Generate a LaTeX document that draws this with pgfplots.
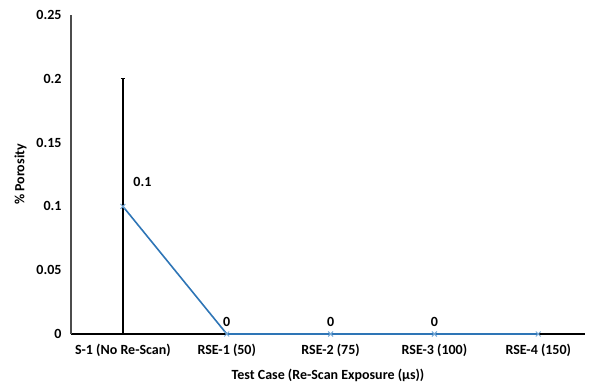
\documentclass[border=0pt]{standalone}
\usepackage{pgfplots}
\pgfplotsset{compat=1.18}
\usepackage{fontspec}
\setmainfont{Carlito}
\definecolor{lineblue}{RGB}{46,117,182}
\definecolor{markblue}{RGB}{120,170,215}
\begin{document}
\begin{tikzpicture}
\begin{axis}[
  name=ax,
  scale only axis,
  width=514pt, height=319pt,
  xmin=-0.5, xmax=4.45,
  ymin=0, ymax=0.25,
  axis x line=bottom, axis y line=left,
  x axis line style={-, black, line width=1.4pt},
  y axis line style={-, black!70, line width=1.2pt},
  xtick={0,1,2,3,4},
  xticklabels={S-1 (No Re-Scan),RSE-1 (50),RSE-2 (75),RSE-3 (100),RSE-4 (150)},
  ytick={0,0.05,0.1,0.15,0.2,0.25},
  yticklabels={0,0.05,0.1,0.15,0.2,0.25},
  major tick length=0pt,
  tick label style={font=\fontsize{14}{16}\selectfont\bfseries},
  xticklabel style={yshift=-7pt},
  yticklabel style={xshift=-6pt},
  xlabel={Test Case (Re-Scan Exposure (µs))},
  ylabel={\% Porosity},
  label style={font=\fontsize{14}{16}\selectfont\bfseries},
  xlabel style={yshift=-5pt},
  ylabel style={yshift=3pt},
  clip=false,
]
% error bar
\addplot[draw=none, mark=none, forget plot,
  error bars/.cd, y dir=both, y explicit,
  error bar style={black, line width=1.5pt},
  error mark options={black, line width=1pt, mark size=2pt, rotate=90}]
  coordinates {(0,0.1) +- (0,0.1)};
% series
\addplot[lineblue, line width=1.6pt, mark=x, mark size=3.5pt,
  mark options={markblue, line width=1pt}]
  coordinates {(0,0.1) (1,0) (2,0) (3,0) (4,0)};
% labels
\addplot[draw=none, mark=none, point meta=explicit symbolic,
  nodes near coords, nodes near coords style={anchor=south west, font=\fontsize{14}{16}\selectfont\bfseries, xshift=7pt, yshift=16pt}]
  coordinates {(0,0.1)[0.1]};
\addplot[draw=none, mark=none, point meta=explicit symbolic,
  nodes near coords, nodes near coords style={anchor=south, font=\fontsize{14}{16}\selectfont\bfseries, yshift=4pt}]
  coordinates {(1,0)[0] (2,0)[0] (3,0)[0]};
\end{axis}
\path ([shift={(-71pt,-48pt)}]ax.south west) ([shift={(5pt,15pt)}]ax.north east);
\end{tikzpicture}
\end{document}
